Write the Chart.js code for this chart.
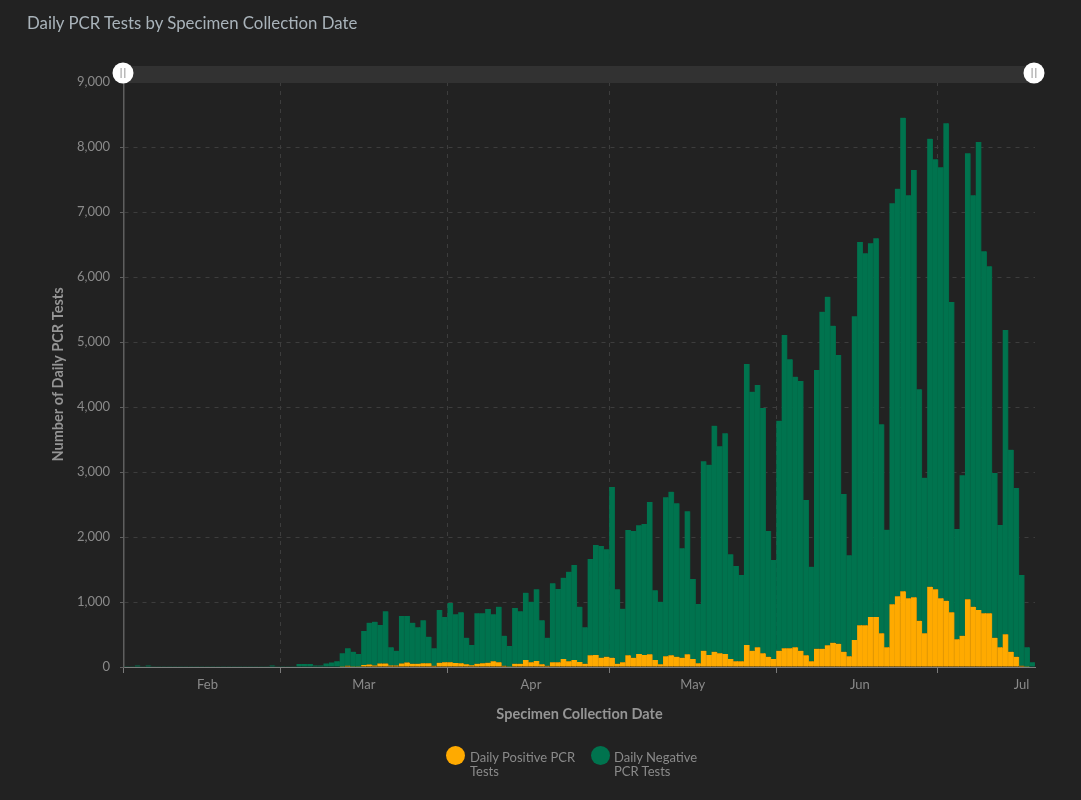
<!DOCTYPE html>
<html>
<head>
<meta charset="utf-8">
<title>Daily PCR Tests</title>
<script src="https://cdn.jsdelivr.net/npm/chart.js@4"></script>
<style>
  html, body { margin: 0; padding: 0; background: #222222; overflow: hidden; }
  #wrap { position: relative; width: 1081px; height: 800px; font-family: Lato, sans-serif; }
  canvas { display: block; }
  #title { position: absolute; left: 27px; top: 12px; font-size: 16.8px; color: #a9b3ba; }
  .key { position: absolute; top: 750px; font-size: 13px; line-height: 14px; color: #8a8a8a; white-space: pre-line; }
  .dot { position: absolute; top: 746px; width: 19px; height: 19px; border-radius: 50%; }
</style>
</head>
<body>
<div id="wrap">
  <canvas id="chart1" width="1081" height="800"></canvas>
  <div id="title">Daily PCR Tests by Specimen Collection Date</div>
  <div class="dot" style="left:446px;background:#ffaa00"></div>
  <div class="key" style="left:470px" id="key0"></div>
  <div class="dot" style="left:591px;background:#00734e"></div>
  <div class="key" style="left:614px" id="key1"></div>
</div>
<script>
const monthNames = ["Feb", "Mar", "Apr", "May", "Jun", "Jul"];
const monthDays = [29, 31, 30, 31, 30, 18];
// bar index under each month label (labels sit mid month, not on the month line)
const monthLabelAt = [15, 44, 75, 105, 136, 166];
const yTicks = [0, 1000, 2000, 3000, 4000, 5000, 6000, 7000, 8000, 9000];
const seriesNames = ["Daily Positive PCR Tests", "Daily Negative PCR Tests"];
const legendText = ["Daily Positive PCR\nTests", "Daily Negative\nPCR Tests"];

// one value per day, Feb 1 to Jul 18
const positive = [
  0,0,0,0,0,0,0,0,0,0, 0,0,0,0,0,0,0,0,0,0,
  0,0,0,0,0,0,0,0,0,0, 0,0,0,0,0,0,0,0,0,0,
  3,20,3,3,30,40,25,55,55,25, 25,55,70,50,50,56,56,20,67,72,
  72,62,56,41,26,51,56,67,87,72, 20,5,51,51,108,72,92,41,20,72,
  72,123,87,108,77,51,180,185,144,159, 144,51,72,180,144,200,185,195,108,41,
  164,180,159,144,195,123,56,251,185,236, 210,200,123,87,87,338,251,303,210,159,
  123,251,287,287,303,251,180,87,282,282, 333,374,359,236,164,415,641,641,769,769,
  518,303,964,1087,1164,1056,1072,713,518,1236, 1195,1056,1020,841,426,482,1041,928,877,826,
  826,451,303,503,236,159,20,3,0
];
const negative = [
  3,3,22,5,22,3,5,5,5,5, 5,5,5,5,5,5,5,5,5,5,
  5,5,5,5,5,5,5,25,5,5, 5,5,45,45,45,25,25,55,70,90,
  207,267,232,197,524,642,672,591,801,278, 225,730,715,632,560,662,411,267,810,698,
  913,748,785,410,313,775,770,825,723,856, 462,318,857,805,1036,933,1103,677,431,1215,
  1128,1251,1380,1461,851,559,1481,1692,1718,1651, 2625,1144,825,1928,1948,1979,2015,2343,1071,964,
  2446,2517,2359,1682,2200,1231,913,2913,2928,3477, 3185,3396,1610,1467,1328,4323,3985,4035,3774,1933,
  1523,3539,4821,4446,4164,4149,2389,1457,4287,5185, 5364,4877,4441,2425,1554,4980,5897,5723,5749,5826,
  3215,1810,6169,6272,7287,6200,6574,3559,2395,6892, 6615,6631,7344,4774,1697,2467,6861,6328,7200,5569,
  5338,2534,1882,4681,3108,2595,1395,300,72
];

// category per day, and which bars begin a month
let days = [];
let monthStarts = [];
monthNames.forEach((name, m) => {
  monthStarts.push(days.length);
  for (let d = 1; d <= monthDays[m]; d++) days.push(name + " " + d);
});

document.getElementById("key0").textContent = legendText[0];
document.getElementById("key1").textContent = legendText[1];

// the range slider strip above the plot
const sliderStrip = {
  id: "sliderStrip",
  afterDraw(chart) {
    const c = chart.ctx, a = chart.chartArea;
    c.save();
    c.fillStyle = "#323232";
    c.fillRect(a.left, 66, a.right - a.left - 1, 17);
    [a.left - 1, a.right - 1].forEach(x => {
      c.fillStyle = "#ffffff";
      c.beginPath();
      c.arc(x, 73, 10.5, 0, Math.PI * 2);
      c.fill();
      c.fillStyle = "#a8a8a8";
      c.fillRect(x - 2.5, 68, 1.2, 10);
      c.fillRect(x + 1.2, 68, 1.2, 10);
    });
    c.restore();
  }
};

const isMonthLine = i => monthStarts.includes(i);

let chart1 = new Chart(document.getElementById("chart1").getContext("2d"), {
  type: "bar",
  data: {
    labels: days,
    datasets: [
      { label: seriesNames[0], data: positive, backgroundColor: "#ffaa00", borderColor: "#e89d06",
        borderWidth: { left: 0, right: 1, top: 0, bottom: 0 }, inflateAmount: 0.5 },
      { label: seriesNames[1], data: negative, backgroundColor: "#00734e", borderColor: "#016b49",
        borderWidth: { left: 0, right: 1, top: 0, bottom: 0 }, inflateAmount: 0.5 }
    ]
  },
  options: {
    responsive: false,
    animation: false,
    layout: { padding: { left: 50, right: 46, top: 82, bottom: 77 } },
    plugins: { legend: { display: false }, title: { display: false }, tooltip: { enabled: false } },
    datasets: { bar: { barPercentage: 1, categoryPercentage: 1 } },
    scales: {
      x: {
        stacked: true,
        afterFit: s => { s.height = 56; },
        grid: {
          offset: true,
          lineWidth: 1,
          color: ctx => isMonthLine(ctx.index) && ctx.index > 0 ? "#3d3d3d" : "rgba(0,0,0,0)",
          tickColor: ctx => isMonthLine(ctx.index) ? "#7a7a7a" : "rgba(0,0,0,0)",
          tickLength: 6
        },
        border: { color: "#7d7d7d", width: 1, dash: [4, 5] },
        ticks: {
          autoSkip: false, maxRotation: 0, minRotation: 0, padding: 4,
          color: "#8a8a8a",
          font: { family: "Lato", size: 13 },
          callback: (v, i) => {
            const m = monthLabelAt.indexOf(i);
            return m >= 0 ? monthNames[m] : "";
          }
        },
        title: {
          display: true, text: "Specimen Collection Date", color: "#959595",
          font: { family: "Lato", size: 14.5, weight: "bold" }, padding: 0
        }
      },
      y: {
        stacked: true,
        min: 0,
        max: 9000,
        afterBuildTicks: s => { s.ticks = yTicks.map(v => ({ value: v })); },
        afterFit: s => { s.width = 74; },
        grid: { color: "#3d3d3d", tickColor: "#5f5f5f", tickLength: 4, lineWidth: 1 },
        border: { color: "#5f5f5f", width: 1.5, dash: [4, 5] },
        ticks: {
          padding: 10, color: "#8a8a8a",
          font: { family: "Lato", size: 13 },
          callback: v => v.toLocaleString("en-US")
        },
        title: {
          display: true, text: "Number of Daily PCR Tests", color: "#959595",
          font: { family: "Lato", size: 14.5, weight: "bold" }, padding: 0
        }
      }
    }
  },
  plugins: [sliderStrip]
});
</script>
</body>
</html>
